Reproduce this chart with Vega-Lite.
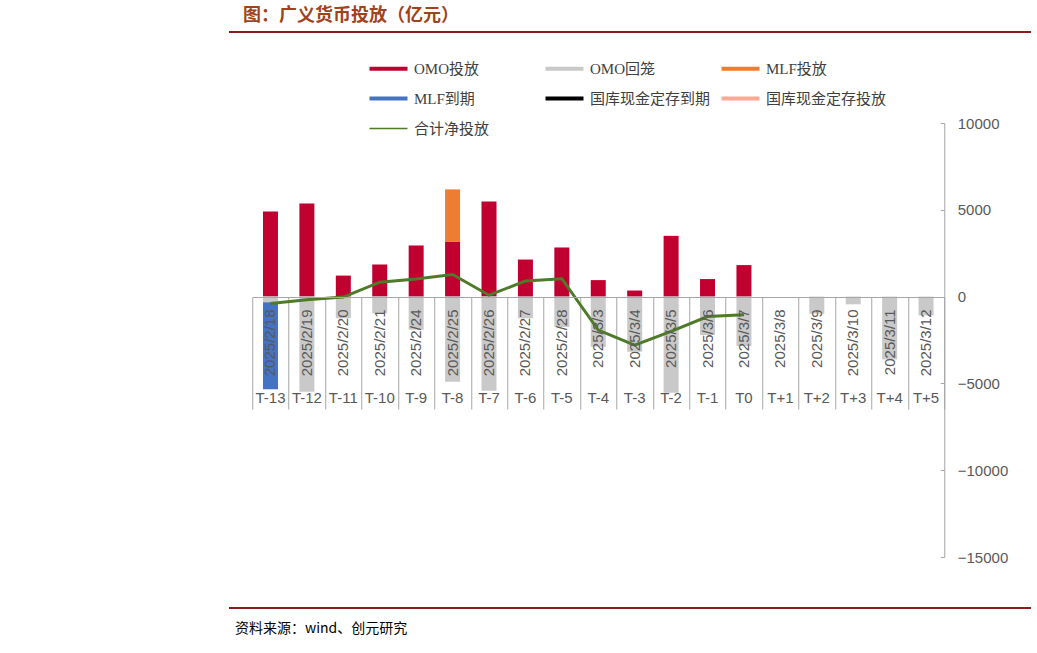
{
  "$schema": "https://vega.github.io/schema/vega-lite/v6.json",
  "background": "white",
  "padding": {"left": 229, "top": 7, "right": 0, "bottom": 0},
  "config": {"view": {"stroke": null}},
  "center": true,
  "spacing": 37,
  "vconcat": [
    {
      "center": true,
      "spacing": 79,
      "vconcat": [
        {
          "width": 802,
          "height": 2,
          "view": {"fill": "#8B1C1C", "stroke": null},
          "title": {
            "text": "图：广义货币投放（亿元）",
            "anchor": "start",
            "dx": 14,
            "offset": 1,
            "font": "Noto Sans CJK SC",
            "fontSize": 18,
            "fontWeight": "bold",
            "color": "#A0421C"
          },
          "data": {"values": [{}]},
          "mark": {"type": "text", "text": ""}
        },
        {
          "width": 692,
          "height": 434,
          "data": {
            "values": [
              {"k": "2025/2/18|T-13", "s": "OMO投放", "o": 1, "v": 4900},
              {"k": "2025/2/18|T-13", "s": "OMO回笼", "o": 2, "v": -330},
              {"k": "2025/2/18|T-13", "s": "MLF到期", "o": 4, "v": -5000},
              {"k": "2025/2/19|T-12", "s": "OMO投放", "o": 1, "v": 5370},
              {"k": "2025/2/19|T-12", "s": "OMO回笼", "o": 2, "v": -5480},
              {"k": "2025/2/20|T-11", "s": "OMO投放", "o": 1, "v": 1210},
              {"k": "2025/2/20|T-11", "s": "OMO回笼", "o": 2, "v": -1250},
              {"k": "2025/2/21|T-10", "s": "OMO投放", "o": 1, "v": 1850},
              {"k": "2025/2/21|T-10", "s": "OMO回笼", "o": 2, "v": -960},
              {"k": "2025/2/24|T-9", "s": "OMO投放", "o": 1, "v": 2945},
              {"k": "2025/2/24|T-9", "s": "OMO回笼", "o": 2, "v": -1905},
              {"k": "2025/2/25|T-8", "s": "OMO投放", "o": 1, "v": 3175},
              {"k": "2025/2/25|T-8", "s": "MLF投放", "o": 3, "v": 3000},
              {"k": "2025/2/25|T-8", "s": "OMO回笼", "o": 2, "v": -4905},
              {"k": "2025/2/26|T-7", "s": "OMO投放", "o": 1, "v": 5485},
              {"k": "2025/2/26|T-7", "s": "OMO回笼", "o": 2, "v": -5425},
              {"k": "2025/2/27|T-6", "s": "OMO投放", "o": 1, "v": 2135},
              {"k": "2025/2/27|T-6", "s": "OMO回笼", "o": 2, "v": -1250},
              {"k": "2025/2/28|T-5", "s": "OMO投放", "o": 1, "v": 2830},
              {"k": "2025/2/28|T-5", "s": "OMO回笼", "o": 2, "v": -1750},
              {"k": "2025/3/3|T-4", "s": "OMO投放", "o": 1, "v": 950},
              {"k": "2025/3/3|T-4", "s": "OMO回笼", "o": 2, "v": -2890},
              {"k": "2025/3/4|T-3", "s": "OMO投放", "o": 1, "v": 350},
              {"k": "2025/3/4|T-3", "s": "OMO回笼", "o": 2, "v": -3175},
              {"k": "2025/3/5|T-2", "s": "OMO投放", "o": 1, "v": 3500},
              {"k": "2025/3/5|T-2", "s": "OMO回笼", "o": 2, "v": -5545},
              {"k": "2025/3/6|T-1", "s": "OMO投放", "o": 1, "v": 1010},
              {"k": "2025/3/6|T-1", "s": "OMO回笼", "o": 2, "v": -2215},
              {"k": "2025/3/7|T0", "s": "OMO投放", "o": 1, "v": 1815},
              {"k": "2025/3/7|T0", "s": "OMO回笼", "o": 2, "v": -2850},
              {"k": "2025/3/8|T+1", "s": "OMO回笼", "o": 2, "v": 0},
              {"k": "2025/3/9|T+2", "s": "OMO回笼", "o": 2, "v": -980},
              {"k": "2025/3/10|T+3", "s": "OMO回笼", "o": 2, "v": -445},
              {"k": "2025/3/11|T+4", "s": "OMO回笼", "o": 2, "v": -3620},
              {"k": "2025/3/12|T+5", "s": "OMO回笼", "o": 2, "v": -1080},
              {"k": "2025/2/18|T-13", "s": "合计净投放", "o": 7, "v": -400},
              {"k": "2025/2/19|T-12", "s": "合计净投放", "o": 7, "v": -180},
              {"k": "2025/2/20|T-11", "s": "合计净投放", "o": 7, "v": -30},
              {"k": "2025/2/21|T-10", "s": "合计净投放", "o": 7, "v": 830},
              {"k": "2025/2/24|T-9", "s": "合计净投放", "o": 7, "v": 1020},
              {"k": "2025/2/25|T-8", "s": "合计净投放", "o": 7, "v": 1270},
              {"k": "2025/2/26|T-7", "s": "合计净投放", "o": 7, "v": 80},
              {"k": "2025/2/27|T-6", "s": "合计净投放", "o": 7, "v": 900},
              {"k": "2025/2/28|T-5", "s": "合计净投放", "o": 7, "v": 1030},
              {"k": "2025/3/3|T-4", "s": "合计净投放", "o": 7, "v": -1930},
              {"k": "2025/3/4|T-3", "s": "合计净投放", "o": 7, "v": -2800},
              {"k": "2025/3/5|T-2", "s": "合计净投放", "o": 7, "v": -2000},
              {"k": "2025/3/6|T-1", "s": "合计净投放", "o": 7, "v": -1150},
              {"k": "2025/3/7|T0", "s": "合计净投放", "o": 7, "v": -1050}
            ]
          },
          "encoding": {
            "x": {
              "field": "k",
              "type": "nominal",
              "title": null,
              "scale": {
                "domain": ["2025/2/18|T-13", "2025/2/19|T-12", "2025/2/20|T-11", "2025/2/21|T-10", "2025/2/24|T-9", "2025/2/25|T-8", "2025/2/26|T-7", "2025/2/27|T-6", "2025/2/28|T-5", "2025/3/3|T-4", "2025/3/4|T-3", "2025/3/5|T-2", "2025/3/6|T-1", "2025/3/7|T0", "2025/3/8|T+1", "2025/3/9|T+2", "2025/3/10|T+3", "2025/3/11|T+4", "2025/3/12|T+5"],
                "paddingInner": 0,
                "paddingOuter": 0
              }
            },
            "y": {
              "field": "v",
              "type": "quantitative",
              "title": null,
              "scale": {"domain": [-15000, 10000], "nice": false, "zero": false},
              "axis": {
                "orient": "right",
                "values": [-15000, -10000, -5000, 0, 5000, 10000],
                "format": "d",
                "grid": false,
                "domainColor": "#A6A6A6",
                "tickColor": "#A6A6A6",
                "tickSize": -4,
                "labelPadding": 17,
                "labelFlush": false,
                "labelOverlap": false,
                "labelFont": "Liberation Sans",
                "labelFontSize": 15,
                "labelColor": "#595959"
              }
            },
            "color": {
              "field": "s",
              "type": "nominal",
              "scale": {
                "domain": ["OMO投放", "OMO回笼", "MLF投放", "MLF到期", "国库现金定存到期", "国库现金定存投放", "合计净投放"],
                "range": ["#C0002F", "#C9C9C9", "#ED7D31", "#4472C4", "#000000", "#FFA895", "#4E7A2A"]
              },
              "legend": {
                "title": null,
                "values": ["OMO投放", "OMO回笼", "MLF投放", "MLF到期", "国库现金定存到期", "国库现金定存投放", "合计净投放"],
                "orient": "none",
                "legendX": 152,
                "legendY": 30,
                "columns": 3,
                "direction": "horizontal",
                "gridAlign": "all",
                "columnPadding": 10,
                "rowPadding": 14,
                "padding": 0,
                "symbolSize": 100,
                "symbolStrokeWidth": 0,
                "labelOffset": 18,
                "labelFont": "Liberation Serif, Noto Sans CJK SC",
                "labelFontSize": 15,
                "labelColor": "#404040",
                "labelLimit": 300,
                "encode": {
                  "symbols": {
                    "update": {
                      "shape": {"signal": "datum.value === '合计净投放' ? 'M-3.8,-0.15H3.8V0.15H-3.8Z' : 'M-3.8,-0.4H3.8V0.4H-3.8Z'"},
                      "fill": {"scale": "color", "field": "value"},
                      "stroke": {"value": "transparent"},
                      "strokeWidth": {"value": 0},
                      "opacity": {"value": 1}
                    }
                  }
                }
              }
            }
          },
          "layer": [
            {
              "transform": [{"filter": "datum.s !== '合计净投放'"}],
              "mark": {"type": "bar", "size": 15},
              "encoding": {
                "x": {
                  "field": "k",
                  "type": "nominal",
                  "axis": {
                    "orient": "bottom",
                    "labelExpr": "split(datum.label, '|')[0]",
                    "labelAngle": -90,
                    "ticks": false,
                    "labelPadding": 12,
                    "offset": -260,
                    "domainColor": "#A6A6A6",
                    "labelFont": "Liberation Sans",
                    "labelFontSize": 15,
                    "labelColor": "#595959",
                    "labelOverlap": false,
                    "grid": false,
                    "zindex": 1
                  }
                },
                "order": {"field": "o", "type": "quantitative"}
              }
            },
            {
              "transform": [{"filter": "datum.s === '合计净投放'"}],
              "mark": {"type": "line", "strokeWidth": 3},
              "encoding": {
                "x": {
                  "field": "k",
                  "type": "nominal",
                  "axis": {
                    "orient": "top",
                    "labels": false,
                    "tickBand": "extent",
                    "tickSize": 112,
                    "tickColor": "#A6A6A6",
                    "domain": false,
                    "offset": -286,
                    "grid": false
                  }
                }
              }
            },
            {
              "transform": [{"filter": "datum.s === '合计净投放'"}],
              "mark": {"type": "point", "opacity": 0},
              "encoding": {
                "x": {
                  "field": "k",
                  "type": "nominal",
                  "axis": {
                    "orient": "bottom",
                    "labelExpr": "split(datum.label, '|')[1]",
                    "labelAngle": 0,
                    "ticks": false,
                    "domain": false,
                    "labelPadding": 93,
                    "offset": -260,
                    "labelFont": "Liberation Sans",
                    "labelFontSize": 15,
                    "labelColor": "#595959",
                    "labelOverlap": false,
                    "grid": false
                  }
                }
              }
            }
          ],
          "resolve": {"axis": {"x": "independent"}}
        }
      ]
    },
    {
      "width": 802,
      "height": 2,
      "view": {"fill": "#8B1C1C", "stroke": null},
      "title": {
        "text": "资料来源：wind、创元研究",
        "orient": "bottom",
        "anchor": "start",
        "dx": 6,
        "offset": 9,
        "font": "Noto Sans CJK SC",
        "fontSize": 14,
        "fontWeight": "normal",
        "color": "#000000"
      },
      "data": {"values": [{}]},
      "mark": {"type": "text", "text": ""}
    }
  ]
}
